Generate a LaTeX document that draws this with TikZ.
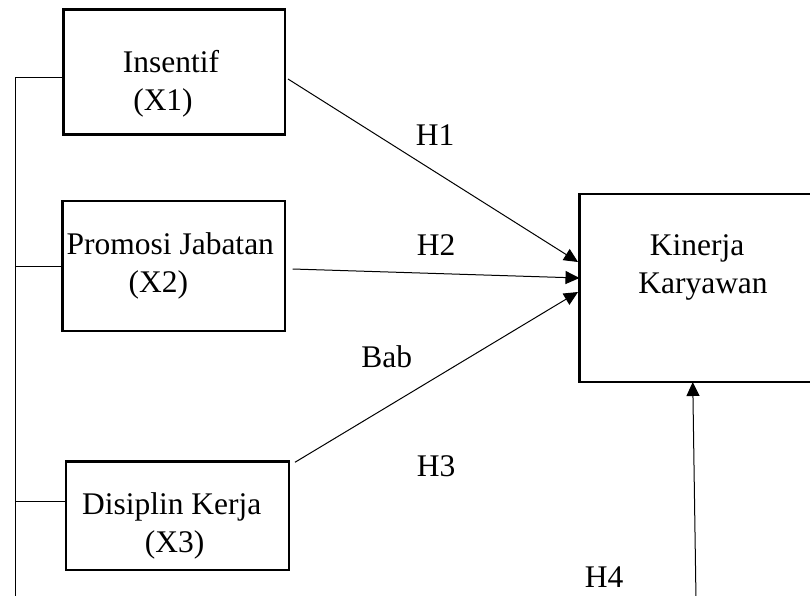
\documentclass[tikz,border=0pt]{standalone}
\usepackage{fontspec}
\setmainfont{Liberation Serif}
\usetikzlibrary{arrows.meta}
\begin{document}
\begin{tikzpicture}[x=1pt,y=-1pt,
  box/.style={draw,line width=2.4pt,rectangle,inner sep=0pt,outer sep=0pt},
  txt/.style={font=\fontsize{31.5}{38}\selectfont,align=center,inner sep=0pt},
  conn/.style={line width=1pt},
  arr/.style={conn,-{Triangle[length=14pt,width=13pt]}}]
\useasboundingbox (0,0) rectangle (810,595);
\clip (0,0) rectangle (810,595);
% boxes
\node[box,minimum width=221.5pt,minimum height=125pt] (x1) at (174.25,72) {};
\node[box,minimum width=222.2pt,minimum height=129.5pt] (x2) at (173.6,266) {};
\node[box,minimum width=222.7pt,minimum height=108.4pt] (x3) at (177.6,515.5) {};
\node[box,minimum width=250.5pt,minimum height=188pt] (y) at (704.75,288) {};
% texts
\node[txt] (x1t) at (171,83.3) {Insentif\\(X1)\hspace*{16pt}};
\node[txt] (x2t) at (170.3,266) {Promosi Jabatan\\(X2)\hspace*{24pt}};
\node[txt] (x3t) at (171.7,526) {Disiplin Kerja\\\hspace*{6pt}(X3)};
\node[txt] (yt) at (703,267.4) {Kinerja\hspace*{12pt}\\Karyawan};
% left bracket line
\coordinate (ltop) at (15,77);
\coordinate (lbot) at (15,600);
\draw[conn] (lbot) -- (ltop) -- (ltop -| x1.west);
\draw[conn] (ltop |- x2.west) -- (x2.west);
\draw[conn] (15,501) coordinate (l3) -- (l3 -| x3.west);
% arrows
\draw[arr] ([xshift=3pt,yshift=-7pt]x1.east) -- ([xshift=-1.5pt,yshift=26pt]y.west);
\draw[arr] ([xshift=8pt,yshift=-3pt]x2.east) -- ([yshift=10pt]y.west);
\draw[arr] ([xshift=6pt,yshift=-1pt]x3.north east) -- ([xshift=-1.5pt,yshift=-4pt]y.west);
\coordinate (h4s) at (696,600);
\draw[arr] (h4s) -- ([xshift=-12pt]y.south);
% labels
\node[txt] (h1) at (435,135) {H1};
\node[txt] (h2) at (436,245) {H2};
\node[txt] (bab) at (386.7,356.7) {Bab};
\node[txt] (h3) at (436,466.7) {H3};
\node[txt] (h4) at (604,577) {H4};
\end{tikzpicture}
\end{document}
